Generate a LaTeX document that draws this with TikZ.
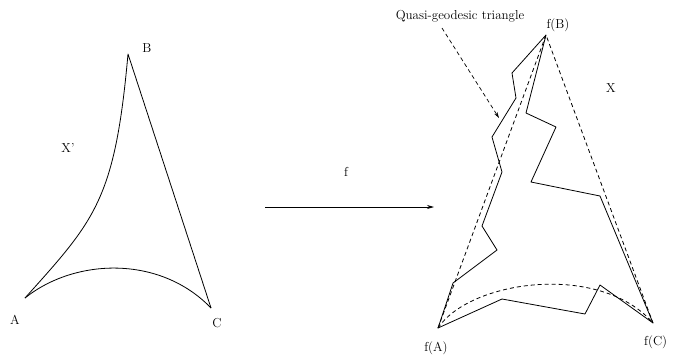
\documentclass[tikz,border=0pt]{standalone}
\usetikzlibrary{arrows.meta,positioning}

\begin{document}
\begin{tikzpicture}[
  x=1pt, y=-1pt,
  every node/.style={font=\fontsize{13}{15}\selectfont, inner sep=1pt, anchor=center},
  geod/.style={line width=0.8pt, line join=round},
  quasi/.style={line width=0.8pt, dash pattern=on 4pt off 3pt},
  mapArrow/.style={line width=0.7pt, -{Stealth[length=7pt, width=4pt]}},
  leader/.style={line width=0.7pt, dash pattern=on 4pt off 3pt, -{Stealth[length=6pt, width=3.5pt]}}
]
  \useasboundingbox (0,0) rectangle (678,362);

  % --- Raum X' mit geodaetischem Dreieck ---
  \coordinate (A) at (25,298);
  \coordinate (B) at (128,54);
  \coordinate (C) at (211,308);
  \draw[geod] (A) .. controls (95,220) and (115,200) .. (B) -- (C);
  \draw[geod] (A) .. controls (75,258) and (160,255) .. (C);

  \node (lA) at (15,320) {A};
  \node (lB) at (147,48) {B};
  \node (lC) at (217,323) {C};
  \node (lXp) at (68,148) {X'};

  % --- Abbildung f ---
  \coordinate (fL) at (265,207);
  \coordinate (fR) at (434,207);
  \draw[mapArrow] (fL) -- (fR);
  \node (lf) at (346,172) {f};

  % --- Raum X: geodaetisches Dreieck (gestrichelt) ---
  \coordinate (fA) at (438,328);
  \coordinate (fB) at (546,35);
  \coordinate (fC) at (653,323);
  \draw[quasi] (fA) -- (fB) -- (fC);
  \draw[quasi] (fA) .. controls (470,280) and (600,262) .. (fC);

  % Quasi-geodaetisches Dreieck
  \draw[geod] (fA) -- (453,283) -- (497,250) -- (482,226) -- (502,172)
    -- (492,137) -- (516,98) -- (512,73) -- (fB)
    -- (526,113) -- (556,127) -- (531,182) -- (600,196) -- (fC)
    -- (600,285) -- (585,314) -- (502,299) -- cycle;

  \node (lfA) at (436,348) {f(A)};
  \node (lfB) at (558,25) {f(B)};
  \node (lfC) [anchor=west] at (643,342) {f(C)};
  \node (lX) at (611,88) {X};

  % Beschriftung mit Hinweispfeil
  \node (lQuasi) at (460,16) {Quasi-geodesic triangle};
  \coordinate (qStart) at (442,28);
  \coordinate (qTip) at (499,118);
  \draw[leader] (qStart) -- (qTip);
\end{tikzpicture}
\end{document}
